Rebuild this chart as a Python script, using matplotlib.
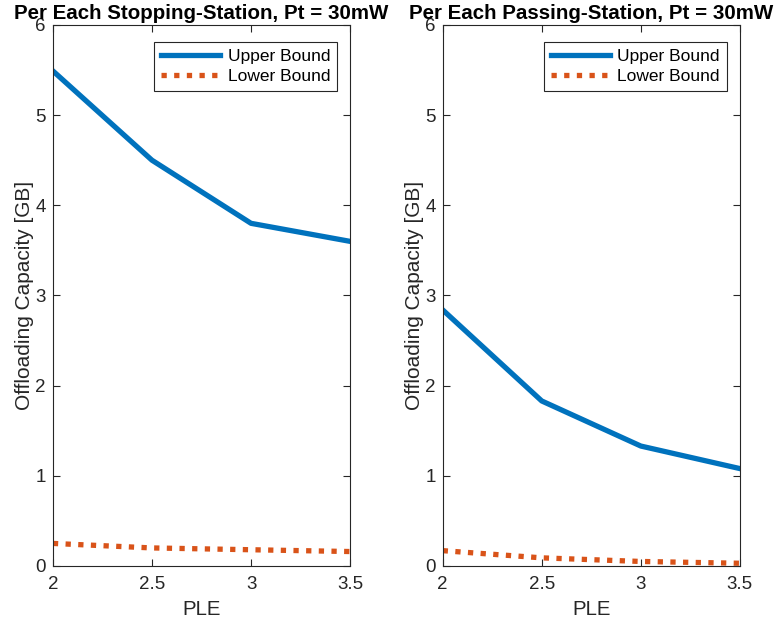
import matplotlib.pyplot as plt

plt.rcParams["font.family"] = ["Liberation Sans", "DejaVu Sans"]

ple = [2, 2.5, 3, 3.5]

stop_upper = [5.49, 4.5, 3.8, 3.6]
stop_lower = [0.25, 0.20, 0.18, 0.16]

pass_upper = [2.84, 1.83, 1.33, 1.08]
pass_lower = [0.17, 0.09, 0.05, 0.03]

titles = ["Per Each Stopping-Station, Pt = 30mW", "Per Each Passing-Station, Pt = 30mW"]

blue = "#0072BD"
orange = "#D95319"
axis_grey = "#262626"

fig = plt.figure(figsize=[7.78, 6.24], dpi=100)
ax0 = fig.add_axes([0.068, 0.093, 0.382, 0.867])
ax1 = fig.add_axes([0.569, 0.093, 0.382, 0.867])

for ax, upper, lower, title in [
    (ax0, stop_upper, stop_lower, titles[0]),
    (ax1, pass_upper, pass_lower, titles[1]),
]:
    ax.plot(ple, upper, color=blue, lw=3.8, label="Upper Bound")
    ax.plot(ple, lower, color=orange, lw=3.8, ls=(0, (1, 1.4)), label="Lower Bound")
    ax.set_xlim(2, 3.5)
    ax.set_ylim(0, 6)
    ax.set_xticks([2, 2.5, 3, 3.5], ["2", "2.5", "3", "3.5"])
    ax.set_yticks(range(7))
    ax.tick_params(direction="in", top=True, right=True, labelsize=13.5,
                   colors=axis_grey, length=5, width=0.8)
    ax.tick_params(axis="x", pad=7)
    ax.tick_params(axis="y", pad=5)
    for s in ax.spines.values():
        s.set_color(axis_grey)
        s.set_linewidth(0.8)
    ax.set_xlabel("PLE", fontsize=14.7, color=axis_grey, labelpad=5)
    ax.set_ylabel("Offloading Capacity [GB]", fontsize=15, color=axis_grey, labelpad=1)
    ax.set_title(title, fontsize=14.8, fontweight="bold", pad=4)
    leg = ax.legend(loc="upper right", fontsize=12.5, fancybox=False, framealpha=1,
                    edgecolor=axis_grey, handlelength=3.4, borderaxespad=0,
                    bbox_to_anchor=(0.956, 0.969),
                    labelspacing=0.3, borderpad=0.4, handletextpad=0.45)
    leg.get_frame().set_linewidth(0.8)

fig.savefig("out.png", dpi=100)
